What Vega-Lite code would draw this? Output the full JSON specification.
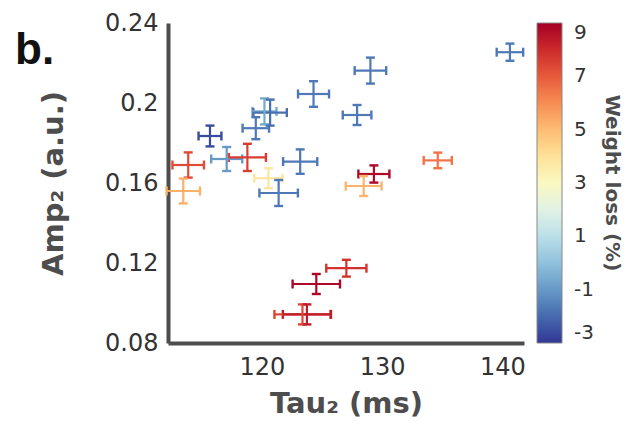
{
  "$schema": "https://vega.github.io/schema/vega-lite/v6.json",
  "autosize": "none",
  "width": 356,
  "height": 320,
  "padding": {"left": 168, "top": 23, "right": 110, "bottom": 98},
  "background": "white",
  "title": {"text": "b.", "anchor": "start", "frame": "group", "fontSize": 44, "fontWeight": "bold", "font": "Liberation Sans", "color": "#111111", "dx": -153, "dy": 101, "baseline": "alphabetic"},
  "data": {"values": [
    {"tau": 129.03, "tauErr": 1.31, "amp": 0.2162, "ampErr": 0.0065, "wl": -1.7},
    {"tau": 124.30, "tauErr": 1.29, "amp": 0.2045, "ampErr": 0.0064, "wl": -1.7},
    {"tau": 127.92, "tauErr": 1.19, "amp": 0.1940, "ampErr": 0.0050, "wl": -1.7},
    {"tau": 120.22, "tauErr": 1.00, "amp": 0.1958, "ampErr": 0.0065, "wl": -0.6},
    {"tau": 120.69, "tauErr": 1.39, "amp": 0.1952, "ampErr": 0.0065, "wl": -1.9},
    {"tau": 119.50, "tauErr": 1.10, "amp": 0.1874, "ampErr": 0.0055, "wl": -1.7},
    {"tau": 115.69, "tauErr": 0.95, "amp": 0.1835, "ampErr": 0.0052, "wl": -2.6},
    {"tau": 113.88, "tauErr": 1.31, "amp": 0.1690, "ampErr": 0.0063, "wl": 7.3},
    {"tau": 117.08, "tauErr": 1.29, "amp": 0.1720, "ampErr": 0.0060, "wl": -1.0},
    {"tau": 118.80, "tauErr": 1.54, "amp": 0.1728, "ampErr": 0.0068, "wl": 7.6},
    {"tau": 123.19, "tauErr": 1.42, "amp": 0.1707, "ampErr": 0.0061, "wl": -1.7},
    {"tau": 129.32, "tauErr": 1.29, "amp": 0.1645, "ampErr": 0.0043, "wl": 8.8},
    {"tau": 120.55, "tauErr": 1.18, "amp": 0.1624, "ampErr": 0.0050, "wl": 3.8},
    {"tau": 113.47, "tauErr": 1.39, "amp": 0.1560, "ampErr": 0.0062, "wl": 5.3},
    {"tau": 121.40, "tauErr": 1.60, "amp": 0.1550, "ampErr": 0.0065, "wl": -1.7},
    {"tau": 128.47, "tauErr": 1.49, "amp": 0.1585, "ampErr": 0.0050, "wl": 5.2},
    {"tau": 127.03, "tauErr": 1.67, "amp": 0.1174, "ampErr": 0.0042, "wl": 7.8},
    {"tau": 124.53, "tauErr": 1.97, "amp": 0.1095, "ampErr": 0.0050, "wl": 8.8},
    {"tau": 123.38, "tauErr": 2.33, "amp": 0.0943, "ampErr": 0.0050, "wl": 7.4},
    {"tau": 123.75, "tauErr": 2.00, "amp": 0.0943, "ampErr": 0.0050, "wl": 8.3},
    {"tau": 140.63, "tauErr": 1.10, "amp": 0.2254, "ampErr": 0.0043, "wl": -1.7},
    {"tau": 134.63, "tauErr": 1.17, "amp": 0.1713, "ampErr": 0.0039, "wl": 6.5}
  ]},
  "encoding": {
    "x": {"field": "tau", "type": "quantitative", "scale": {"domain": [112.2, 141.8], "nice": false, "zero": false},
      "axis": {"values": [120, 130, 140], "title": "Tau₂ (ms)", "labelPadding": 12, "titlePadding": 10, "labelFlush": false, "titleFontSize": 29}},
    "y": {"field": "amp", "type": "quantitative", "scale": {"domain": [0.08, 0.24], "nice": false, "zero": false},
      "axis": {"values": [0.08, 0.12, 0.16, 0.2, 0.24], "format": "~g", "title": "Amp₂ (a.u.)", "labelPadding": 10, "titlePadding": 36, "labelFlush": false, "titleFontSize": 29}},
    "color": {"field": "wl", "type": "quantitative",
      "scale": {"scheme": "redyellowblue", "reverse": true, "domain": [-3, 9]},
      "legend": {"type": "gradient", "title": "Weight loss (%)", "values": [-3, -1, 1, 3, 5, 7, 9], "labelExpr": "'' + datum.value", "direction": "vertical", "orient": "right", "offset": 13,
        "gradientLength": 320, "gradientThickness": 25, "gradientStrokeColor": "#888888", "gradientStrokeWidth": 1,
        "labelFont": "DejaVu Sans", "labelFontSize": 20, "labelColor": "#333333", "labelOffset": 12, "labelOverlap": false,
        "titleOrient": "right", "titleAngle": 270, "titleAnchor": "middle", "titleFont": "DejaVu Sans", "titleFontSize": 20,
        "titleFontWeight": "bold", "titleColor": "#4d4d4d", "titlePadding": 8, "padding": 0}}
  },
  "layer": [
    {"mark": {"type": "errorbar", "ticks": {"size": 7, "thickness": 0.4, "filled": false, "strokeWidth": 2, "opacity": 1}, "thickness": 2.2},
     "encoding": {"xError": {"field": "tauErr"}}},
    {"mark": {"type": "errorbar", "ticks": {"size": 7, "thickness": 0.4, "filled": false, "strokeWidth": 2, "opacity": 1}, "thickness": 2.2},
     "encoding": {"yError": {"field": "ampErr"}}}
  ],
  "config": {
    "view": {"stroke": null},
    "legend": {"titleAngle": 270, "titleOrient": "right"},
    "axis": {"domainColor": "#4d4d4d", "domainWidth": 4, "ticks": false, "grid": false,
      "labelFont": "DejaVu Sans", "labelFontSize": 24, "labelColor": "#333333",
      "titleFont": "DejaVu Sans", "titleFontSize": 26, "titleFontWeight": "bold", "titleColor": "#4d4d4d"}
  }
}
